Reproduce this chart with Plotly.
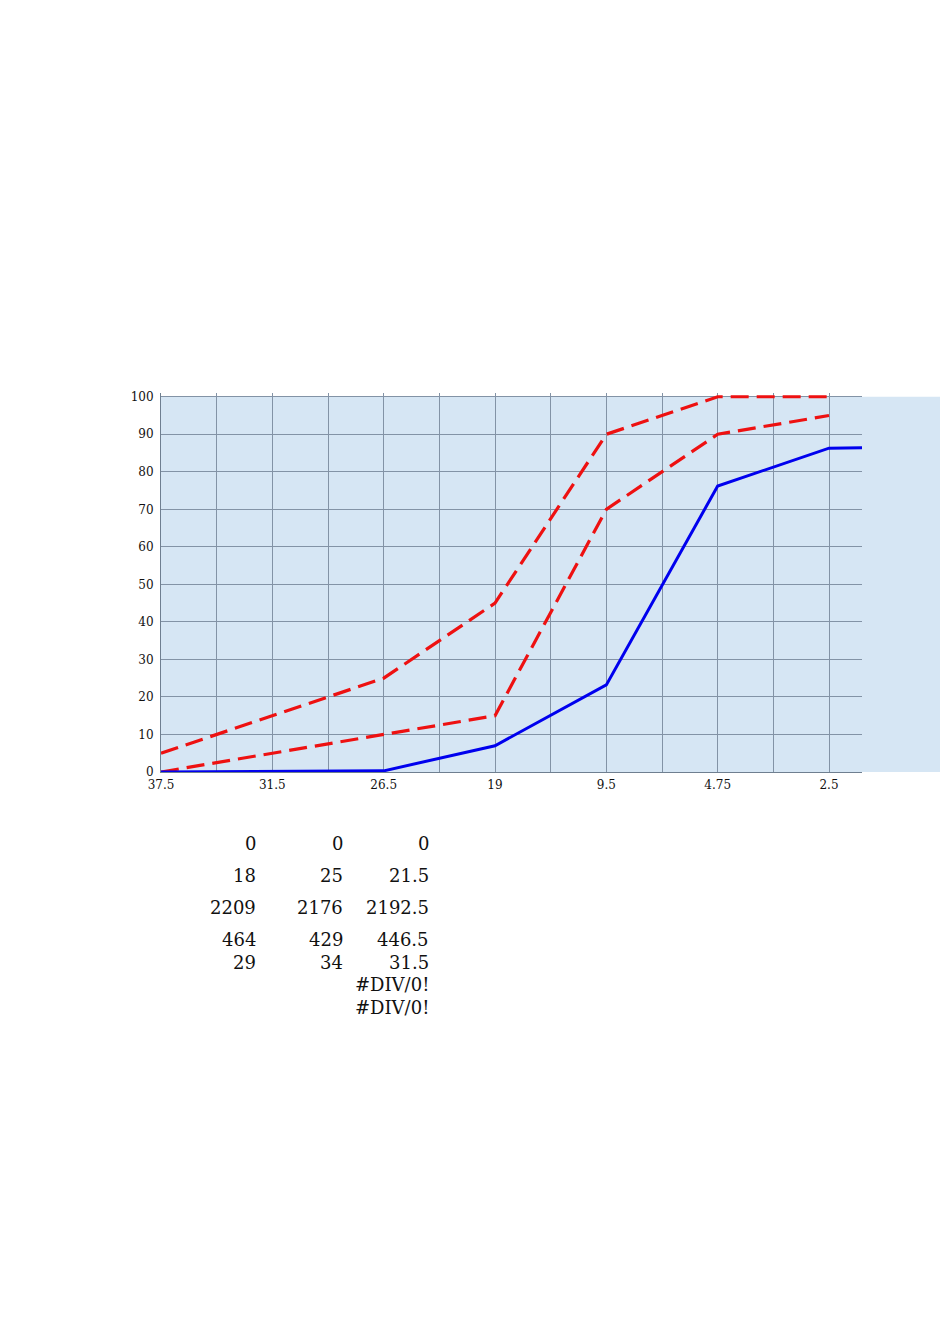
import plotly.graph_objects as go

# ---- data ----
sizes = ["37.5", "31.5", "26.5", "19", "9.5", "4.75", "2.5"]
passing = [0, 0.1, 0.3, 7, 23.2, 76.2, 86.3, 86.6]
upper_limit = [5, 15, 25, 45, 90, 100, 100]
lower_limit = [0, 5, 10, 15, 70, 90, 95]

table_col1 = ["0", "18", "2209", "464", "29", "", ""]
table_col2 = ["0", "25", "2176", "429", "34", "", ""]
table_col3 = ["0", "21.5", "2192.5", "446.5", "31.5", "#DIV/0!", "#DIV/0!"]

# ---- layout geometry (pixels, page coordinates) ----
W, H = 950, 1344
OFF = 8  # page body margin offset
PL, PR, PB = 161 - OFF, 862 - OFF, 772 - OFF
YMAX = 101
plot_h = (PB - (397 - OFF)) * YMAX / 100.0
PT = PB - plot_h
pw = PR - PL

def px_x(x):
    return (x - OFF - PL) / pw

def px_y(y):
    return (PB - (y - OFF)) / plot_h

xs_p = list(range(len(passing)))
xs = list(range(len(sizes)))
serif = "DejaVu Serif"

fig = go.Figure()
fig.add_trace(go.Scatter(x=xs, y=upper_limit, mode="lines",
                         line=dict(color="#ee1111", width=3.2, dash="18px,8px"),
                         showlegend=False, hoverinfo="skip"))
fig.add_trace(go.Scatter(x=xs, y=lower_limit, mode="lines",
                         line=dict(color="#ee1111", width=3.2, dash="18px,8px"),
                         showlegend=False, hoverinfo="skip"))
fig.add_trace(go.Scatter(x=xs_p, y=passing, mode="lines",
                         line=dict(color="#0000ee", width=3),
                         showlegend=False, hoverinfo="skip"))

tickvals = [i * 0.5 for i in range(2 * len(sizes) - 1)]
ticktext = [sizes[i // 2] if i % 2 == 0 else "" for i in range(len(tickvals))]

xmax = (862 - 161) / ((829 - 161) / 6.0)

annotations = []
row_y = [843, 875, 907, 939, 962, 984, 1007]
for col, xr in ((table_col1, 258), (table_col2, 345), (table_col3, 431)):
    for txt, yy in zip(col, row_y):
        if txt:
            annotations.append(dict(x=px_x(xr), y=px_y(yy), xref="paper", yref="paper",
                                    text=txt, showarrow=False, xanchor="right",
                                    yanchor="middle",
                                    font=dict(family=serif, size=18, color="#111111")))

fig.update_layout(
    width=W, height=H,
    margin=dict(l=PL, r=W - PR, t=PT, b=H - PB, pad=0),
    paper_bgcolor="white",
    plot_bgcolor="rgba(0,0,0,0)",
    xaxis=dict(range=[0, xmax], tickmode="array", tickvals=tickvals, ticktext=ticktext,
               showgrid=True, gridcolor="#8393a6", gridwidth=1, zeroline=False,
               showline=True, linecolor="#6f7f90", linewidth=1, ticks="",
               ticklabelstandoff=2,
               tickfont=dict(family=serif, size=12, color="#111111")),
    yaxis=dict(range=[0, YMAX], tickmode="array", tickvals=list(range(0, 101, 10)),
               showgrid=True, gridcolor="#8393a6", gridwidth=1, zeroline=False,
               showline=True, linecolor="#6f7f90", linewidth=1, ticks="",
               ticklabelstandoff=4,
               tickfont=dict(family=serif, size=12, color="#111111")),
    shapes=[dict(type="rect", xref="paper", yref="paper", x0=0, x1=px_x(940),
                 y0=0, y1=px_y(397), fillcolor="#d6e6f4", line=dict(width=0),
                 layer="below")],
    annotations=annotations,
)

fig.write_html("out.html")
